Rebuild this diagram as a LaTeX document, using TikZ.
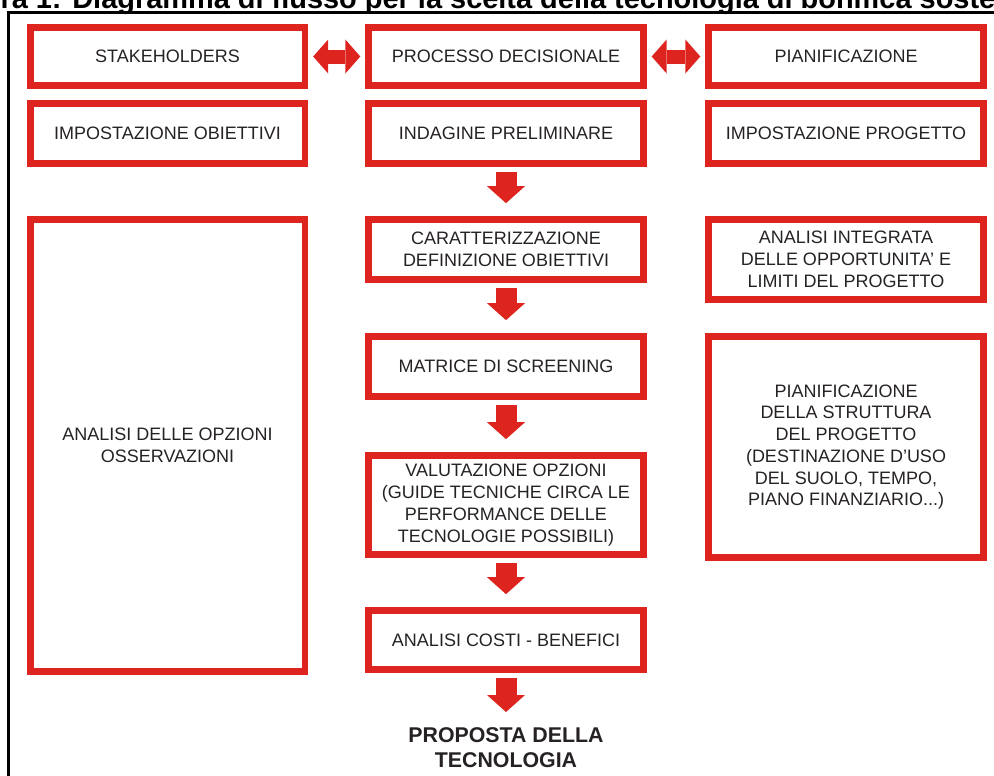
\documentclass[tikz,border=0pt]{standalone}
\usepackage{fontspec}
\setmainfont{Liberation Sans}
\usetikzlibrary{arrows.meta}

\definecolor{bonred}{RGB}{221,36,31}
\definecolor{inkgray}{RGB}{38,34,35}

\tikzset{every picture/.style={line width=0.75pt}}
\tikzset{
box/.style={draw=bonred, line width=5pt, minimum width=206pt, inner sep=0pt,
  align=center, text=inkgray, font=\fontsize{13.5pt}{16.3pt}\selectfont},
downarrow/.style={draw=bonred, line width=15.75pt,
  -{Triangle[length=12.75pt, width=28.5pt, line width=0pt]},
  shorten <=4pt, shorten >=9.75pt},
dblarrow/.style={draw=bonred, line width=10.5pt,
  {Triangle[length=11.25pt, width=25.5pt, line width=0pt]}-{Triangle[length=11.25pt, width=25.5pt, line width=0pt]},
  shorten <=3.75pt, shorten >=3.75pt}}

\begin{document}
\begin{tikzpicture}[x=0.75pt,y=0.75pt,yscale=-1,xscale=1]
            \useasboundingbox (0,0) rectangle (994,775); %picture is 994 wide and 775 high

            %Text Node: title, cut by the top edge
            \node [anchor=base west, inner sep=0pt, font=\fontsize{21.7pt}{26pt}\selectfont\bfseries] (title) at (0,8) {\llap{Figu}ra 1: Diagramma di flusso per la scelta della tecnologia di bonifica sostenibile};
            %Straight Lines: frame
            \draw [line width=2.25pt]    (8,790) -- (8,12.5) -- (1010,12.5) ;

            %Shape: Rectangle, top row
            \node [box, minimum height=43.5pt] (stake) at (167.5,56.5) {STAKEHOLDERS};
            \node [box, minimum height=43.5pt] (processo) at (506,56.5) {PROCESSO DECISIONALE};
            \node [box, minimum height=43.5pt] (pianif) at (846,56.5) {PIANIFICAZIONE};
            %Shape: Rectangle, second row
            \node [box, minimum height=45pt] (impobj) at (167.5,133.5) {IMPOSTAZIONE OBIETTIVI};
            \node [box, minimum height=45pt] (indagine) at (506,133.5) {INDAGINE PRELIMINARE};
            \node [box, minimum height=45pt] (impprog) at (846,133.5) {IMPOSTAZIONE PROGETTO};
            %Shape: Rectangle, left column
            \node [box, minimum height=339pt] (opzioni) at (167.5,445.5) {ANALISI DELLE OPZIONI\\OSSERVAZIONI};
            %Shape: Rectangle, middle column
            \node [box, minimum height=45pt] (caratt) at (506,249.5) {CARATTERIZZAZIONE\\DEFINIZIONE OBIETTIVI};
            \node [box, minimum height=45pt] (matrice) at (506,366.5) {MATRICE DI SCREENING};
            \node [box, minimum height=74.25pt] (valuta) at (506,505) {VALUTAZIONE OPZIONI\\(GUIDE TECNICHE CIRCA LE\\PERFORMANCE DELLE\\TECNOLOGIE POSSIBILI)};
            \node [box, minimum height=44.25pt] (costi) at (506,640) {ANALISI COSTI - BENEFICI};
            %Text Node: result
            \node [anchor=north, inner sep=0pt, align=center, text=inkgray, font=\fontsize{16pt}{18.75pt}\selectfont\bfseries] (proposta) at (506,727) {PROPOSTA DELLA\\TECNOLOGIA};
            %Shape: Rectangle, right column
            \node [box, minimum height=60pt] (integrata) at (846,259.5) {ANALISI INTEGRATA\\DELLE OPPORTUNITA' E\\LIMITI DEL PROGETTO};
            \node [box, minimum height=165.75pt] (struttura) at (846,447) {PIANIFICAZIONE\\DELLA STRUTTURA\\DEL PROGETTO\\(DESTINAZIONE D'USO\\DEL SUOLO, TEMPO,\\PIANO FINANZIARIO...)};

            %Right-Left Arrow
            \draw [dblarrow]    (stake) -- (processo) ;
            \draw [dblarrow]    (processo) -- (pianif) ;
            %Down Arrow
            \draw [downarrow]    (indagine) -- (caratt) ;
            \draw [downarrow]    (caratt) -- (matrice) ;
            \draw [downarrow]    (matrice) -- (valuta) ;
            \draw [downarrow]    (valuta) -- (costi) ;
            \draw [downarrow, shorten >=11.25pt]    (costi) -- (proposta) ;
            \end{tikzpicture}
\end{document}
